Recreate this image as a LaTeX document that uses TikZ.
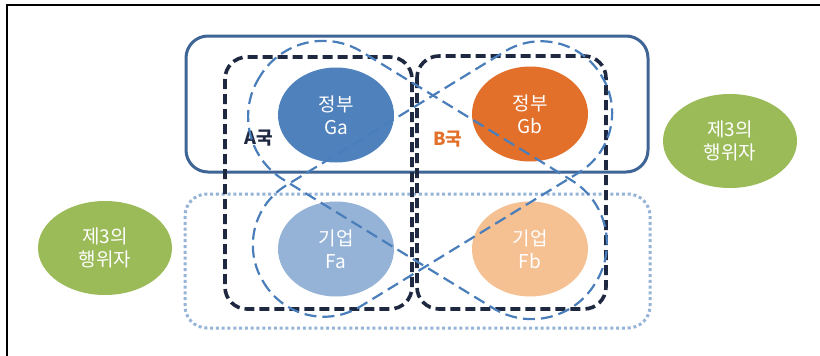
\documentclass[tikz,border=0pt]{standalone}
\usepackage{fontspec}
\setmainfont{Noto Sans CJK KR}
\usetikzlibrary{shapes.geometric}
\definecolor{gaC}{RGB}{79,129,189}
\definecolor{gbC}{RGB}{226,112,42}
\definecolor{faC}{RGB}{149,179,215}
\definecolor{fbC}{RGB}{245,192,146}
\definecolor{grC}{RGB}{155,187,89}
\definecolor{navyC}{RGB}{30,40,64}
\definecolor{rectC}{RGB}{63,100,150}
\definecolor{loopC}{RGB}{74,126,187}
\definecolor{dotC}{RGB}{150,180,215}
\begin{document}
\begin{tikzpicture}[x=1pt,y=-1pt,
  blob/.style={ellipse, minimum width=116pt, minimum height=95pt, inner sep=0pt,
    text=white, align=center, font=\fontsize{19}{23}\selectfont},
  actor/.style={ellipse, fill=grC, minimum width=134pt, minimum height=94pt, inner sep=0pt,
    text=white, align=center, font=\fontsize{19}{23}\selectfont},
  govbox/.style={draw=rectC, line width=3pt, rounded corners=22pt},
  firmbox/.style={draw=dotC, line width=3pt, dash pattern=on 3pt off 2.8pt, rounded corners=22pt},
  nationbox/.style={draw=navyC, line width=3.6pt, dash pattern=on 10pt off 5pt, rounded corners=22pt},
  loopline/.style={draw=loopC, line width=2.2pt, dash pattern=on 12pt off 6pt},
  tag/.style={font=\fontsize{18}{20}\selectfont\bfseries}]
\useasboundingbox (0,0) rectangle (820,356);
\fill[white] (0,0) rectangle (820,356);
% frame
\draw[line width=1.5pt, black] (7,356) -- (7,5) -- (820,5);
% ellipses
\node[blob, fill=gaC] (ga) at (336,115) {정부\\Ga};
\node[blob, fill=gbC] (gb) at (530,114) {정부\\Gb};
\node[blob, fill=faC] (fa) at (336,249) {기업\\Fa};
\node[blob, fill=fbC] (fb) at (530,249) {기업\\Fb};
\node[actor] (t1) at (730,141) {제3의\\행위자};
\node[actor] (t2) at (105,248) {제3의\\행위자};
% boxes
\draw[govbox] (186,36) rectangle (648,172);
\draw[firmbox] (185,194) rectangle (650,328);
\draw[nationbox] (225,57) rectangle (412,309);
\draw[nationbox] (417,56) rectangle (606,309);
% labels
\node[tag, text=navyC] (la) at (259,138) {A국};
\node[tag, text=gbC] (lb) at (448,139) {B국};
% dashed loops
\begin{scope}[shift={(427.5,180)}, rotate=-31.5]
  \draw[loopline, rounded corners=74pt] (-197,-75) rectangle (197,75);
\end{scope}
\begin{scope}[shift={(432.5,179)}, rotate=31.5]
  \draw[loopline, rounded corners=70pt] (-198,-71) rectangle (198,71);
\end{scope}
\end{tikzpicture}
\end{document}
